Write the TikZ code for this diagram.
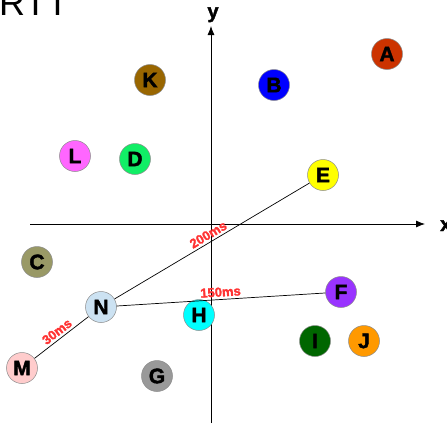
\documentclass[tikz,border=0pt]{standalone}
\usepackage{fontspec}
\setmainfont{Liberation Sans}
\newfontface\heavyfont{Liberation Sans Bold}[FakeBold=2]
\usetikzlibrary{arrows.meta}
\definecolor{cA}{HTML}{CC3300}
\definecolor{cK}{HTML}{996600}
\definecolor{cB}{HTML}{0000FF}
\definecolor{cL}{HTML}{FF66FF}
\definecolor{cD}{HTML}{11EE66}
\definecolor{cE}{HTML}{FFFF00}
\definecolor{cC}{HTML}{999966}
\definecolor{cF}{HTML}{9933FF}
\definecolor{cN}{HTML}{CCE2F2}
\definecolor{cH}{HTML}{00FFFF}
\definecolor{cI}{HTML}{006600}
\definecolor{cJ}{HTML}{FF9900}
\definecolor{cM}{HTML}{FFCCCC}
\definecolor{cG}{HTML}{999999}
\definecolor{lblred}{HTML}{FF3333}
\tikzset{
  host/.style={circle, draw=black!45, line width=0.5pt, minimum size=31pt, inner sep=0pt,
    font=\fontsize{21pt}{21pt}\heavyfont},
  axis/.style={line width=0.8pt, -{Latex[length=9pt,width=7pt]}},
  link/.style={line width=0.7pt},
  rtt/.style={midway, above, sloped, inner sep=2.5pt, text=lblred,
    font=\fontsize{13pt}{13pt}\heavyfont}
}
\begin{document}
\begin{tikzpicture}[x=1pt,y=-1pt]
\useasboundingbox (0,0) rectangle (447,423);
\node[anchor=base west, inner sep=0pt, font=\fontsize{36pt}{36pt}\selectfont] (title) at (-1,15) {RTT};
\coordinate (xs) at (30,224);
\coordinate (xe) at (425,224);
\coordinate (ys) at (211,423);
\coordinate (ye) at (211,26);
\draw[axis] (xs) -- (xe);
\draw[axis] (ys) -- (ye);
\node[anchor=base west, inner sep=0pt, font=\fontsize{20pt}{20pt}\heavyfont] (xl) at (440,231) {x};
\node[anchor=base, inner sep=0pt, font=\fontsize{20pt}{20pt}\heavyfont] (yl) at (213,18) {y};

\node[host, fill=cA] (A) at (387,54) {A};
\node[host, fill=cK] (K) at (150,80) {K};
\node[host, fill=cB] (B) at (274,85) {B};
\node[host, fill=cL] (L) at (75,156) {L};
\node[host, fill=cD] (D) at (135,159) {D};
\node[host, fill=cE] (E) at (323,175) {E};
\node[host, fill=cC] (C) at (37,262) {C};
\node[host, fill=cF] (F) at (341,292) {F};
\node[host, fill=cN] (N) at (101,307) {N};
\node[host, fill=cH] (H) at (199,315) {H};
\node[host, fill=cI] (I) at (315,341) {I};
\node[host, fill=cJ] (J) at (364,341) {J};
\node[host, fill=cM] (M) at (22,368) {M};
\node[host, fill=cG] (G) at (157,376) {G};

\draw[link] (N) -- node[rtt] {200ms} (E);
\draw[link] (N) -- node[rtt] {150ms} (F);
\draw[link] (M) -- node[rtt] {30ms} (N);
\end{tikzpicture}
\end{document}
